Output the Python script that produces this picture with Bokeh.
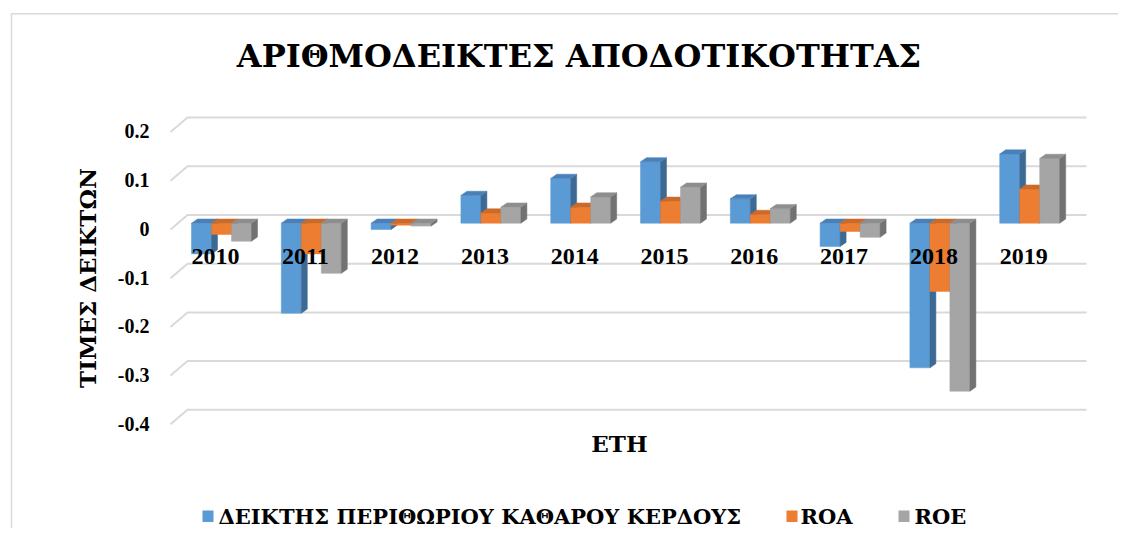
import numpy as np
from bokeh.plotting import figure
from bokeh.models import Range1d
from bokeh.embed import file_html
from bokeh.resources import INLINE
from bokeh.core.properties import value

# ---------------- data ----------------
years = ["2010", "2011", "2012", "2013", "2014", "2015", "2016", "2017", "2018", "2019"]
npm = [-0.063, -0.185, -0.013, 0.057, 0.092, 0.126, 0.050, -0.048, -0.297, 0.142]
roa = [-0.023, -0.063, -0.004, 0.021, 0.033, 0.045, 0.018, -0.017, -0.140, 0.070]
roe = [-0.037, -0.103, -0.006, 0.033, 0.054, 0.074, 0.030, -0.029, -0.345, 0.133]
series_names = ["ΔΕΙΚΤΗΣ ΠΕΡΙΘΩΡΙΟΥ ΚΑΘΑΡΟΥ ΚΕΡΔΟΥΣ", "ROA", "ROE"]
y_ticks = [0.2, 0.1, 0.0, -0.1, -0.2, -0.3, -0.4]
y_tick_labels = ["0.2", "0.1", "0", "-0.1", "-0.2", "-0.3", "-0.4"]
title_text = "ΑΡΙΘΜΟΔΕΙΚΤΕΣ ΑΠΟΔΟΤΙΚΟΤΗΤΑΣ"
y_title = "ΤΙΜΕΣ ΔΕΙΚΤΩΝ"
x_title = "ΕΤΗ"

# ---------------- styling / layout ----------------
W_PX, H_PX = 1118, 528
ORIGIN = 0.0       # page offset of the canvas as photographed
SX = 89.8          # px per category
SY = 487.0         # px per unit value
ZERO_PY = 222.7    # page y of value 0 on bar front plane
CAT0_PX = 221.0    # page x of first category centre
x_start = -(CAT0_PX - ORIGIN) / SX
x_end = x_start + W_PX / SX
y_end = (ZERO_PY - ORIGIN) / SY
y_start = y_end - H_PX / SY


def X(px):
    return x_start + (px - ORIGIN) / SX


def Y(py):
    return y_end - (py - ORIGIN) / SY


BW = 20 / SX       # bar width
DX = 6 / SX        # depth offset x
DY = 4.2 / SY      # depth offset y

front_cols = ["#5B9BD5", "#ED7D31", "#A5A5A5"]
top_cols = ["#4A80B8", "#CC6A29", "#8E8E8E"]
side_cols = ["#3D6A94", "#B0591F", "#727272"]
grid_col = "#D9D9D9"
FONT_LAT = value("Liberation Serif")   # digits
FONT_GR = value("DejaVu Serif")        # text (serif with greek glyphs)

p = figure(width=W_PX, height=H_PX,
           x_range=Range1d(x_start, x_end), y_range=Range1d(y_start, y_end),
           output_backend="svg", toolbar_location=None,
           x_axis_location=None, y_axis_location=None,
           min_border=0, outline_line_color=None,
           background_fill_color="white", border_fill_color="white")
p.grid.visible = False

# chart border (top + left)
p.line(x=[X(11), X(11), X(1140)], y=[Y(560), Y(13.3), Y(13.3)],
       line_color=grid_col, line_width=1.5)

# wall gridlines
BACK_DY = (ZERO_PY - 214.5) / SY
FRONT_DY = (229.0 - ZERO_PY) / SY
gx, gy = [], []
for v in y_ticks:
    gx.append([X(170), X(187), X(1086)])
    gy.append([v - FRONT_DY, v + BACK_DY, v + BACK_DY])
p.multi_line(xs=gx, ys=gy, line_color=grid_col, line_width=2)

# 3D bars
all_series = [npm, roa, roe]
for k, vals in enumerate(all_series):
    lefts, rights, bots, tops = [], [], [], []
    sxs, sys_, txs, tys = [], [], [], []
    for i, v in enumerate(vals):
        xl = i + (k - 1.5) * BW
        xr = xl + BW
        lefts.append(xl)
        rights.append(xr)
        bots.append(min(0.0, v))
        tops.append(max(0.0, v))
        sxs.append([xr, xr + DX, xr + DX, xr])
        sys_.append([0.0, DY, v + DY, v])
        yt = max(0.0, v)
        txs.append([xl, xl + DX, xr + DX, xr])
        tys.append([yt, yt + DY, yt + DY, yt])
    p.quad(left=lefts, right=rights, bottom=bots, top=tops,
           fill_color=front_cols[k], line_color=front_cols[k], line_width=0.5)
    p.patches(xs=sxs, ys=sys_, fill_color=side_cols[k], line_color=side_cols[k], line_width=0.5)
    p.patches(xs=txs, ys=tys, fill_color=top_cols[k], line_color=top_cols[k], line_width=0.5)

# y tick labels (vertically centred)
p.text(x=[X(149)] * len(y_ticks), y=[v - (228.3 - ZERO_PY) / SY for v in y_ticks],
       text=y_tick_labels, text_font=FONT_LAT, text_font_style="bold",
       text_font_size="20px", text_align="right", text_baseline="middle",
       text_color="black")

# category labels
p.text(x=[i - 6 / SX for i in range(len(years))],
       y=[-(256.0 - ZERO_PY) / SY] * len(years),
       text=years, text_font=FONT_LAT, text_font_style="bold",
       text_font_size="24px", text_align="center", text_baseline="middle",
       text_color="black")

# title
p.text(x=[X(578.5)], y=[Y(55.0)], text=[title_text], text_font=FONT_GR,
       text_font_style="bold", text_font_size="32px", text_align="center",
       text_baseline="middle", text_color="black")

# axis titles
p.text(x=[X(87)], y=[Y(277.5)], text=[y_title], text_font=FONT_GR,
       text_font_style="bold", text_font_size="23px", text_align="center",
       text_baseline="middle", angle=np.pi / 2, text_color="black")
p.text(x=[X(619)], y=[Y(443.0)], text=[x_title], text_font=FONT_GR,
       text_font_style="bold", text_font_size="23px", text_align="center",
       text_baseline="middle", text_color="black")

# legend
leg_sq_left = [202, 786, 898]
leg_txt_left = [218, 800, 914]
p.quad(left=[X(a) for a in leg_sq_left], right=[X(a + 11) for a in leg_sq_left],
       bottom=[Y(521.5)] * 3, top=[Y(510)] * 3, fill_color=front_cols, line_color=None)
p.text(x=[X(a) for a in leg_txt_left], y=[Y(515.5)] * 3, text=series_names,
       text_font=FONT_GR, text_font_style="bold", text_font_size="21px",
       text_align="left", text_baseline="middle", text_color="black")

open("out.html", "w").write(file_html(p, INLINE))
